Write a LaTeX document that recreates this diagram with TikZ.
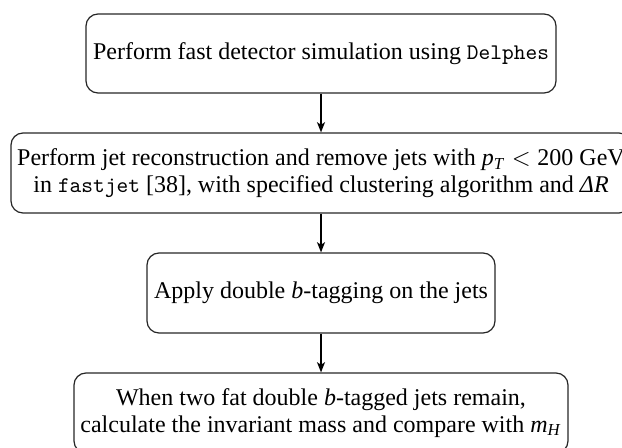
\documentclass[tikz,border=0pt]{standalone}
\usepackage{fontspec}
\setmainfont{Liberation Serif}
\setmonofont{Latin Modern Mono}[Scale=0.93]
\usetikzlibrary{arrows.meta}
\tikzset{
  stepbox/.style={draw=black!85, line width=0.55pt, rounded corners=5.4pt, inner sep=0pt, align=center, font=\fontsize{10.8}{12}\selectfont},
  arr/.style={line width=0.75pt, -{Stealth[length=4.6pt,width=3.6pt,inset=1.2pt]}}
}
\begin{document}
\begin{tikzpicture}[x=0.45pt,y=-0.45pt]
\useasboundingbox (0,0) rectangle (622,447);
\clip (0,0) rectangle (622,447);
\node[stepbox, minimum width=211.5pt, minimum height=35.55pt] (b1) at (321,53.5)
  {Perform fast detector simulation using \texttt{Delphes}};
\node[stepbox, minimum width=279pt, minimum height=36pt] (b2) at (321,173)
  {Perform jet reconstruction and remove jets with \textit{p}\textsubscript{\textit{T}}\;$<$\;200~GeV\\
   in \texttt{fastjet} [38], with specified clustering algorithm and \textit{ΔR}};
\node[stepbox, minimum width=156.6pt, minimum height=36pt] (b3) at (321,293)
  {Apply double \textit{b}-tagging on the jets};
\node[stepbox, minimum width=222.3pt, minimum height=36pt] (b4) at (321,413)
  {When two fat double \textit{b}-tagged jets remain,\\
   calculate the invariant mass and compare with \textit{m}\textsubscript{\textit{H}}};
\draw[arr] (b1) -- (b2);
\draw[arr] (b2) -- (b3);
\draw[arr] (b3) -- (b4);
\end{tikzpicture}
\end{document}
